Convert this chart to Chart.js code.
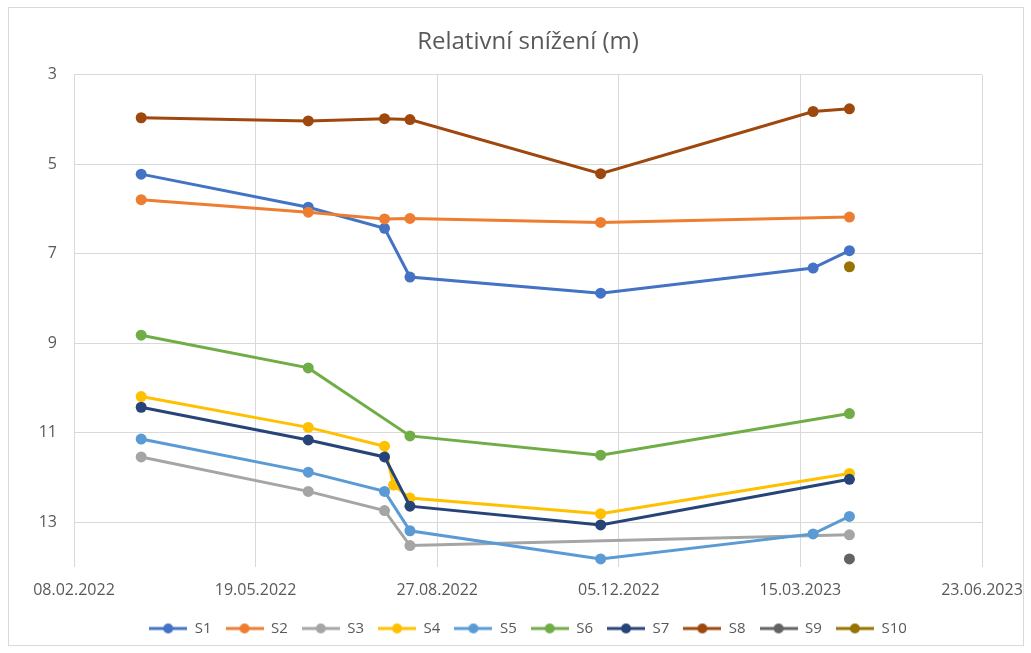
<!DOCTYPE html>
<html>
<head>
<meta charset="utf-8">
<title>Relativní snížení (m)</title>
<script src="https://cdn.jsdelivr.net/npm/chart.js@4/dist/chart.umd.min.js"></script>
<style>
  html, body { margin: 0; padding: 0; background: #fff; }
  #wrap { width: 1031px; height: 653px; position: relative; }
</style>
</head>
<body>
<div id="wrap"><canvas id="snizeniChart"></canvas></div>
<script>
// measurement dates (dd.mm.yyyy)
const dates = ['17.03.2022', '17.06.2022', '29.07.2022', '03.08.2022', '12.08.2022', '25.11.2022', '22.03.2023', '11.04.2023'];

// relative drawdown per well, null = not measured
const s1  = [5.22, 5.96, 6.43, null, 7.52, 7.88, 7.32, 6.93];
const s2  = [5.79, 6.07, 6.22, null, 6.21, 6.30, null, 6.18];
const s3  = [11.54, 12.31, 12.74, null, 13.52, null, null, 13.28];
const s4  = [10.19, 10.88, 11.30, 12.17, 12.46, 12.81, null, 11.91];
const s5  = [11.14, 11.88, 12.31, null, 13.19, 13.82, 13.26, 12.87];
const s6  = [8.82, 9.55, null, null, 11.07, 11.50, null, 10.57];
const s7  = [10.43, 11.16, 11.54, null, 12.64, 13.06, null, 12.04];
const s8  = [3.96, 4.03, 3.98, null, 4.00, 5.21, 3.82, 3.76];
const s9  = [null, null, null, null, null, null, null, 13.82];
const s10 = [null, null, null, null, null, null, null, 7.29];

const seriesNames = ['S1', 'S2', 'S3', 'S4', 'S5', 'S6', 'S7', 'S8', 'S9', 'S10'];
const seriesValues = [s1, s2, s3, s4, s5, s6, s7, s8, s9, s10];

// axis ticks
const xTickDates = ['08.02.2022', '19.05.2022', '27.08.2022', '05.12.2022', '15.03.2023', '23.06.2023'];
const yTicks = [3, 5, 7, 9, 11, 13];
const yMin = 3, yMax = 14;

const colors = ['#4472C4', '#ED7D31', '#A5A5A5', '#FFC000', '#5B9BD5', '#70AD47', '#264478', '#9E480E', '#636363', '#997300'];
const textColor = '#595959';
const gridColor = '#D9D9D9';
const fontFamily = '"Open Sans", "Liberation Sans", sans-serif';

// dates -> day number since first x tick
const DAY = 86400000;
function parseDate(s) {
    const [d, m, y] = s.split('.').map(Number);
    return Date.UTC(y, m - 1, d);
}
const origin = parseDate(xTickDates[0]);
const toDay = s => (parseDate(s) - origin) / DAY;
function fmtDay(v) {
    const dt = new Date(origin + Math.round(v) * DAY);
    const dd = String(dt.getUTCDate()).padStart(2, '0');
    const mm = String(dt.getUTCMonth() + 1).padStart(2, '0');
    return dd + '.' + mm + '.' + dt.getUTCFullYear();
}
const xTicks = xTickDates.map(toDay);

// small legend sample: line with a dot in the middle
function legendSample(color) {
    const c = document.createElement('canvas');
    c.width = 38; c.height = 12;
    const g = c.getContext('2d');
    g.strokeStyle = color;
    g.lineWidth = 3;
    g.beginPath(); g.moveTo(0, 6); g.lineTo(38, 6); g.stroke();
    g.fillStyle = color;
    g.beginPath(); g.arc(19, 6, 5, 0, Math.PI * 2); g.fill();
    return c;
}

const datasets = seriesNames.map((name, i) => ({
    label: name,
    data: dates.map((d, j) => ({ x: toDay(d), y: seriesValues[i][j] })).filter(p => p.y !== null),
    borderColor: colors[i],
    backgroundColor: colors[i],
    borderWidth: 3,
    pointRadius: 5.5,
    pointHoverRadius: 5.5,
    pointBorderWidth: 0,
    tension: 0,
    order: seriesNames.length - i
}));

// Excel centres title and legend over the plot area, not the whole canvas
const centerOnPlot = {
    id: 'centerOnPlot',
    afterLayout(chart) {
        const mid = (chart.chartArea.left + chart.chartArea.right) / 2;
        [chart.titleBlock, chart.legend].forEach(box => {
            if (!box) return;
            const dx = mid - (box.left + box.right) / 2;
            box.left += dx;
            box.right += dx;
            if (box.legendHitBoxes) box.legendHitBoxes.forEach(h => { h.left += dx; });
        });
    }
};

const chartBorder = {
    id: 'chartBorder',
    afterDraw(chart) {
        const ctx = chart.ctx;
        ctx.save();
        ctx.strokeStyle = gridColor;
        ctx.lineWidth = 1;
        ctx.strokeRect(8.5, 7.5, 1015, 638);
        ctx.restore();
    }
};

const ctx = document.getElementById('snizeniChart').getContext('2d');
const snizeniChart = new Chart(ctx, {
    type: 'line',
    data: { datasets: datasets },
    plugins: [centerOnPlot, chartBorder],
    options: {
        responsive: true,
        maintainAspectRatio: false,
        animation: false,
        layout: { padding: { left: 0, right: 49, top: 0, bottom: 7 } },
        plugins: {
            title: {
                display: true,
                text: 'Relativní snížení (m)',
                color: textColor,
                font: { family: fontFamily, size: 24, weight: 'normal' },
                padding: { top: 28, bottom: 18 }
            },
            legend: {
                position: 'bottom',
                labels: {
                    usePointStyle: true,
                    pointStyleWidth: 38,
                    boxHeight: 12,
                    padding: 14,
                    color: textColor,
                    font: { family: fontFamily, size: 15 },
                    generateLabels(chart) {
                        return chart.data.datasets.map((ds, i) => ({
                            text: ds.label,
                            fillStyle: ds.borderColor,
                            strokeStyle: ds.borderColor,
                            lineWidth: 0,
                            pointStyle: legendSample(ds.borderColor),
                            fontColor: textColor,
                            hidden: !chart.isDatasetVisible(i),
                            datasetIndex: i
                        }));
                    }
                }
            },
            tooltip: { enabled: false }
        },
        scales: {
            x: {
                type: 'linear',
                min: xTicks[0],
                max: xTicks[xTicks.length - 1],
                afterBuildTicks: scale => { scale.ticks = xTicks.map(v => ({ value: v })); },
                afterFit: scale => {
                    scale.height = 40;
                    scale.paddingLeft = 0;
                    scale.paddingRight = 0;
                },
                grid: { color: gridColor, drawTicks: false },
                border: { display: false },
                ticks: {
                    color: textColor,
                    font: { family: fontFamily, size: 16 },
                    padding: 14,
                    maxRotation: 0,
                    callback: v => fmtDay(v)
                }
            },
            y: {
                reverse: true,
                min: yMin,
                max: yMax,
                afterBuildTicks: scale => { scale.ticks = yTicks.map(v => ({ value: v })); },
                afterFit: scale => { scale.width = 74; },
                grid: { color: gridColor, drawTicks: false },
                border: { display: false },
                ticks: {
                    color: textColor,
                    font: { family: fontFamily, size: 16 },
                    padding: 17
                }
            }
        }
    }
});
</script>
</body>
</html>
